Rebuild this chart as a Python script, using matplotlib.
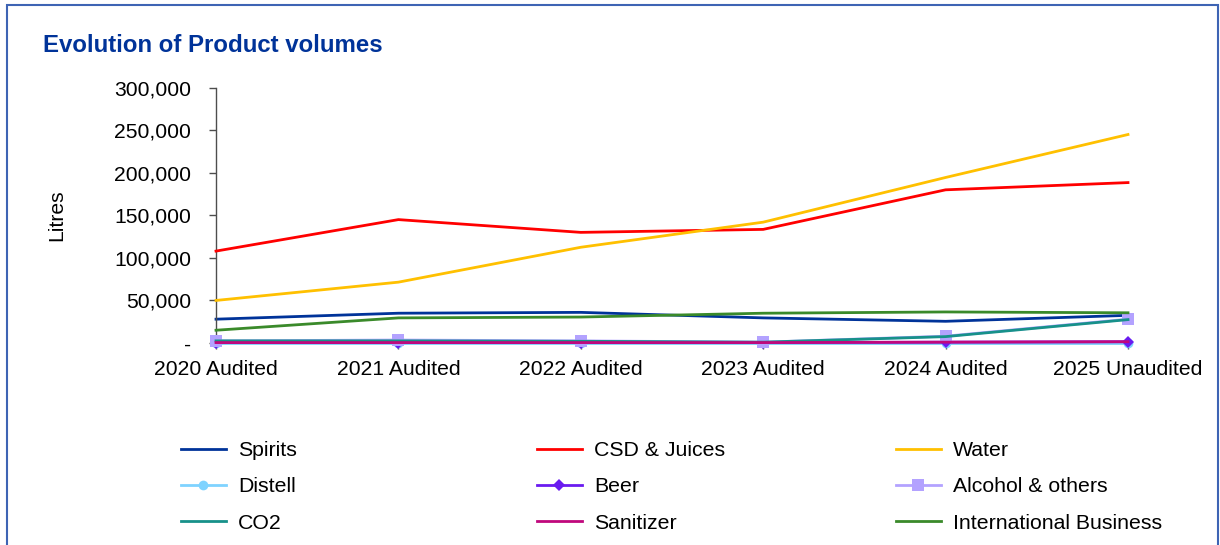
import matplotlib
matplotlib.use("Agg")
import matplotlib.pyplot as plt
from matplotlib.patches import Rectangle
from matplotlib.ticker import FuncFormatter

plt.rcParams['font.family'] = ['Liberation Sans', 'DejaVu Sans']

years = ["2020 Audited", "2021 Audited", "2022 Audited",
         "2023 Audited", "2024 Audited", "2025 Unaudited"]

spirits = [28000, 35000, 36000, 29500, 25500, 32500]
csd_juices = [108000, 145000, 130000, 133500, 180000, 188500]
water = [50000, 71500, 112500, 142000, 194500, 245000]
distell = [0, 0, 0, 0, 0, 0]
beer = [500, 500, 500, 500, 1000, 1500]
alcohol_others = [2500, 3500, 2500, 1000, 8000, 28000]
co2 = [2500, 2500, 2000, 1000, 7500, 27500]
sanitizer = [500, 500, 500, 500, 1000, 1500]
international = [15000, 29500, 30500, 35000, 36500, 35500]

series = [
    ("Spirits", spirits, "#003399", None),
    ("CSD & Juices", csd_juices, "#FF0000", None),
    ("Water", water, "#FFC000", None),
    ("Distell", distell, "#7FD3FF", "o"),
    ("Beer", beer, "#6A1BF0", "D"),
    ("Alcohol & others", alcohol_others, "#B3A2FF", "s"),
    ("CO2", co2, "#17918A", None),
    ("Sanitizer", sanitizer, "#C0087C", None),
    ("International Business", international, "#3A8A2A", None),
]

W, H = 1220, 545
fig = plt.figure(figsize=(W / 100, H / 100), dpi=100)
ax = fig.add_axes([216 / W, 1 - 343 / H, (1128 - 216) / W, (343 - 87.7) / H])

x = list(range(len(years)))
handles = []
for i, (name, vals, color, marker) in enumerate(series):
    msize = {"o": 7, "D": 6.5, "s": 9}.get(marker, 0)
    h, = ax.plot(x, vals, color=color, lw=2.0, marker=marker, markersize=msize,
                 markeredgewidth=0, label=name, zorder=2 + i, clip_on=False,
                 solid_joinstyle="round")
    handles.append(h)

ax.set_xlim(0, 5)
ax.set_ylim(0, 300000)
ax.set_yticks(range(0, 300001, 50000))
ax.yaxis.set_major_formatter(FuncFormatter(lambda v, p: "-" if v == 0 else f"{int(v):,}"))
ax.set_xticks(x)
ax.set_xticklabels(years)

for s in ("top", "right"):
    ax.spines[s].set_visible(False)
for s in ("left", "bottom"):
    ax.spines[s].set_color("#4D4D4D")
    ax.spines[s].set_linewidth(1.0)

ax.tick_params(axis="y", direction="out", length=5, width=1, color="#4D4D4D",
               pad=13, labelsize=15.2, labelcolor="#000000")
ax.tick_params(axis="x", direction="out", length=4, width=1, color="#4D4D4D",
               pad=8, labelsize=15.2, labelcolor="#000000")

fig.text(57 / W, 1 - 215 / H, "Litres", rotation=90, ha="center", va="center",
         fontsize=15.2)

fig.text(43 / W, 1 - 45 / H, "Evolution of Product volumes", ha="left",
         va="center", fontsize=17.3, fontweight="bold", color="#003399")

# legend laid out in three columns, read row by row
col_x = [181, 537, 896]
for c in range(3):
    hs = [handles[c], handles[c + 3], handles[c + 6]]
    fig.legend(handles=hs, loc="upper left",
               bbox_to_anchor=(col_x[c] / W, 1 - 441 / H),
               frameon=False, fontsize=15.3, borderpad=0, borderaxespad=0,
               handlelength=2.1, handletextpad=0.6, labelspacing=0.82)

fig.patches.append(Rectangle((7 / W, -0.05), (1218 - 7) / W, (H - 5) / H + 0.05,
                             transform=fig.transFigure, fill=False,
                             edgecolor="#3E64B4", linewidth=1.5))

fig.savefig("out.png", dpi=100)
